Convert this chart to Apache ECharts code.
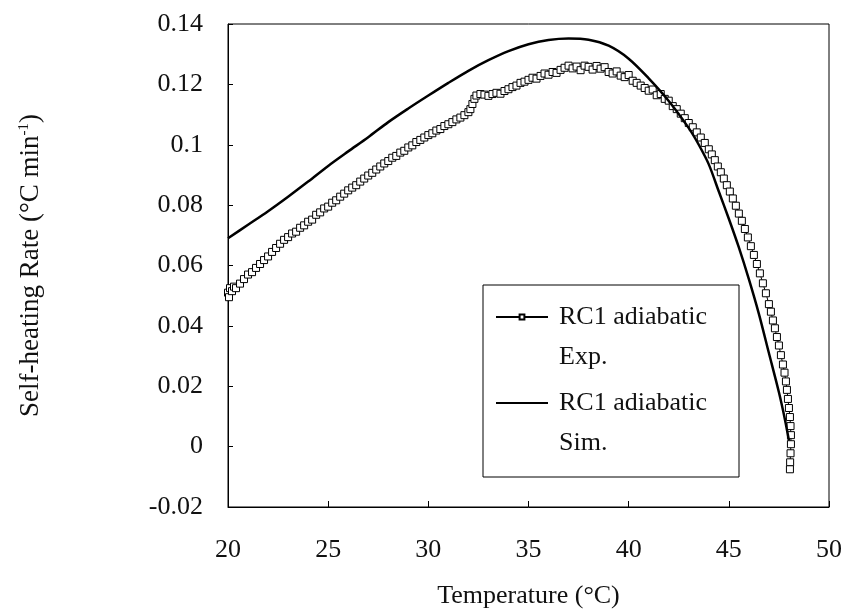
<!DOCTYPE html>
<html>
<head>
<meta charset="utf-8">
<title>Self-heating Rate</title>
<script src="https://cdn.jsdelivr.net/npm/echarts@6.0.0/dist/echarts.min.js"></script>
<style>
  html, body { margin: 0; padding: 0; background: #fff; }
  #chart { width: 844px; height: 614px; }
</style>
</head>
<body>
<div id="chart"></div>
<script>
// 数据
var xTicks = [20, 25, 30, 35, 40, 45, 50];
var yTicks = [-0.02, 0, 0.02, 0.04, 0.06, 0.08, 0.1, 0.12, 0.14];

// RC1 adiabatic Exp.
var expX = [20.0, 20.05, 20.1, 20.2, 20.3, 20.4, 20.6, 20.8, 21.0, 21.2, 21.4, 21.6, 21.8, 22.0, 22.2, 22.4, 22.6, 22.8,
  23.0, 23.2, 23.4, 23.6, 23.8, 24.0, 24.2, 24.4, 24.6, 24.8, 25.0, 25.2, 25.4, 25.6, 25.8, 26.0, 26.2, 26.4, 26.6, 26.8,
  27.0, 27.2, 27.4, 27.6, 27.8, 28.0, 28.2, 28.4, 28.6, 28.8, 29.0, 29.2, 29.4, 29.6, 29.8, 30.0, 30.2, 30.4, 30.6, 30.8,
  31.0, 31.2, 31.4, 31.6, 31.8, 32.0, 32.1, 32.2, 32.3, 32.4, 32.6, 32.8, 33.0, 33.2, 33.4, 33.6, 33.8, 34.0, 34.2, 34.4,
  34.6, 34.8, 35.0, 35.2, 35.4, 35.6, 35.8, 36.0, 36.2, 36.4, 36.6, 36.8, 37.0, 37.2, 37.4, 37.6, 37.8, 38.0, 38.2, 38.4,
  38.6, 38.8, 39.0, 39.2, 39.4, 39.6, 39.8, 40.0, 40.2, 40.4, 40.6, 40.8, 41.0, 41.2, 41.4, 41.6, 41.8, 42.0, 42.2, 42.4,
  42.6, 42.8, 43.0, 43.2, 43.4, 43.6, 43.8, 44.0, 44.15, 44.3, 44.45, 44.6, 44.75, 44.9, 45.05, 45.2, 45.35, 45.5, 45.65,
  45.8, 45.95, 46.1, 46.25, 46.4, 46.55, 46.7, 46.85, 47.0, 47.1, 47.2, 47.3, 47.4, 47.5, 47.6, 47.7, 47.78, 47.85, 47.9,
  47.95, 48.0, 48.05, 48.08, 48.1, 48.1, 48.08, 48.06, 48.05];
var expY = [0.051, 0.0495, 0.0525, 0.0515, 0.053, 0.0525, 0.054, 0.0555, 0.057, 0.0578, 0.0592, 0.0605, 0.0618, 0.063, 0.0645, 0.0658, 0.0672, 0.0685,
  0.0694, 0.0706, 0.0712, 0.0725, 0.0733, 0.0745, 0.0752, 0.0768, 0.0776, 0.0789, 0.0795, 0.0808, 0.0816, 0.0828, 0.0838, 0.0849, 0.0858, 0.0866, 0.0878, 0.0888,
  0.0898, 0.0907, 0.0918, 0.0928, 0.0938, 0.0946, 0.0957, 0.0963, 0.0974, 0.098, 0.0991, 0.0998, 0.1009, 0.1016, 0.1024, 0.1032, 0.1038, 0.1047, 0.1052, 0.1062,
  0.1068, 0.1075, 0.1084, 0.109, 0.1098, 0.1108, 0.1118, 0.1135, 0.1152, 0.1163, 0.1168, 0.1166, 0.1162, 0.1168, 0.1172, 0.1169, 0.1178, 0.1184, 0.1191, 0.1196,
  0.1205, 0.1209, 0.1215, 0.1222, 0.1219, 0.1228, 0.1236, 0.1232, 0.1241, 0.1238, 0.1248, 0.1255, 0.1262, 0.1253, 0.1259, 0.1247, 0.1262, 0.1258, 0.1249, 0.1261,
  0.1252, 0.1257, 0.1241, 0.1236, 0.1243, 0.1229, 0.1224, 0.1231, 0.1212, 0.1205, 0.1196, 0.1188, 0.1179, 0.1183, 0.1164, 0.1168, 0.1152, 0.1146, 0.1128, 0.1118,
  0.1103, 0.1088, 0.1072, 0.1058, 0.1041, 0.1024, 0.1006, 0.0985, 0.0968, 0.0949, 0.0928, 0.0909, 0.0888, 0.0866, 0.0845, 0.0822, 0.0798, 0.0772, 0.0748,
  0.0721, 0.0693, 0.0664, 0.0635, 0.0605, 0.0574, 0.0541, 0.0508, 0.0472, 0.0447, 0.0418, 0.0392, 0.0363, 0.0335, 0.0303, 0.0272, 0.0245, 0.0216, 0.0188,
  0.0158, 0.0128, 0.0098, 0.0068, 0.0038, 0.0008, -0.0022, -0.0052, -0.0075];

// RC1 adiabatic Sim.
var simX = [20, 21, 22, 23, 24, 25, 26, 27, 28, 29, 30, 31, 32, 33, 34, 35, 36, 37, 38, 39, 40, 41, 42, 43,
  43.5, 44, 44.5, 45, 45.5, 46, 46.5, 47, 47.5, 47.8, 48];
var simY = [0.069, 0.0735, 0.078, 0.0828, 0.0878, 0.093, 0.0978, 0.1025, 0.1075, 0.112, 0.1163, 0.1205, 0.1245, 0.128, 0.131, 0.1333, 0.1347, 0.1352, 0.1348, 0.1328, 0.1285, 0.122, 0.1145, 0.1055,
  0.1, 0.0935, 0.0845, 0.0755, 0.066, 0.0555, 0.044, 0.031, 0.018, 0.009, 0.002];

var FONT = "'Liberation Serif', 'DejaVu Serif', serif";

function pairs(xs, ys) {
  var arr = [];
  for (var i = 0; i < xs.length; i++) {
    arr.push([xs[i], ys[i]]);
  }
  return arr;
}

// 图例文字 两行，图标对齐第一行 (顶上加一行空白)
var legendText = {
  fontFamily: FONT,
  fontSize: 26,
  color: "#111",
  rich: {
    s: { fontFamily: FONT, fontSize: 26, lineHeight: 40 },
    t: { fontFamily: FONT, fontSize: 26, lineHeight: 40, color: "#111", padding: [0, 0, 0, 6] }
  }
};

var option = {
  backgroundColor: "#fff",
  animation: false,
  grid: {
    left: 228,
    right: 15,
    top: 24,
    bottom: 107,
    show: true,
    borderColor: "#000",
    borderWidth: 1,
    outerBoundsMode: "none"
  },
  xAxis: {
    type: "value",
    min: xTicks[0],
    max: xTicks[xTicks.length - 1],
    interval: 5,
    name: "Temperature (°C)",
    nameLocation: "middle",
    nameGap: 76,
    nameTextStyle: { fontFamily: FONT, fontSize: 26, color: "#111" },
    axisLine: { show: true, onZero: false, lineStyle: { color: "#000", width: 1 } },
    axisTick: { show: true, inside: true, length: 6, lineStyle: { color: "#000" } },
    axisLabel: { fontFamily: FONT, fontSize: 26, color: "#111", margin: 30 },
    splitLine: { show: false }
  },
  yAxis: {
    type: "value",
    min: yTicks[0],
    max: yTicks[yTicks.length - 1],
    interval: 0.02,
    name: "Self-heating Rate (°C min{sup|-1})",
    nameLocation: "middle",
    nameRotate: 90,
    nameGap: 184,
    nameTextStyle: {
      fontFamily: FONT, fontSize: 27, color: "#111",
      rich: {
        sup: { fontFamily: FONT, fontSize: 15, color: "#111", verticalAlign: "bottom", padding: [0, 0, 12, 0] }
      }
    },
    axisLine: { show: true, onZero: false, lineStyle: { color: "#000", width: 1 } },
    axisTick: { show: true, inside: true, length: 5, lineStyle: { color: "#000" } },
    axisLabel: {
      fontFamily: FONT, fontSize: 26, color: "#111", margin: 25,
      formatter: function (v) { return String(+v.toFixed(2)); }
    },
    splitLine: { show: false }
  },
  legend: [
    {
      data: ["exp"],
      left: 495,
      top: 264,
      padding: 0,
      itemWidth: 52,
      itemHeight: 6,
      selectedMode: false,
      formatter: function () { return "{s| }\n{t|RC1 adiabatic}\n{t|Exp.}"; },
      textStyle: legendText
    },
    {
      data: ["sim"],
      left: 495,
      top: 350,
      padding: 0,
      itemWidth: 52,
      itemHeight: 6,
      selectedMode: false,
      itemStyle: { opacity: 0 },
      formatter: function () { return "{s| }\n{t|RC1 adiabatic}\n{t|Sim.}"; },
      textStyle: legendText
    }
  ],
  graphic: [
    {
      // 图例外框
      type: "rect",
      shape: { x: 483, y: 285, width: 256, height: 192 },
      style: { fill: "none", stroke: "#000", lineWidth: 1 },
      z: 10
    }
  ],
  series: [
    {
      name: "exp",
      type: "line",
      data: pairs(expX, expY),
      symbol: "rect",
      symbolSize: 7,
      showAllSymbol: true,
      itemStyle: { color: "#fff", borderColor: "#000", borderWidth: 1 },
      lineStyle: { color: "#000", width: 1 },
      z: 2
    },
    {
      name: "sim",
      type: "line",
      data: pairs(simX, simY),
      symbol: "none",
      smooth: 0.3,
      itemStyle: { color: "#000" },
      lineStyle: { color: "#000", width: 2.5 },
      z: 3
    }
  ]
};

var chart = echarts.init(document.getElementById("chart"), null, { renderer: "canvas" });
chart.setOption(option);
</script>
</body>
</html>
